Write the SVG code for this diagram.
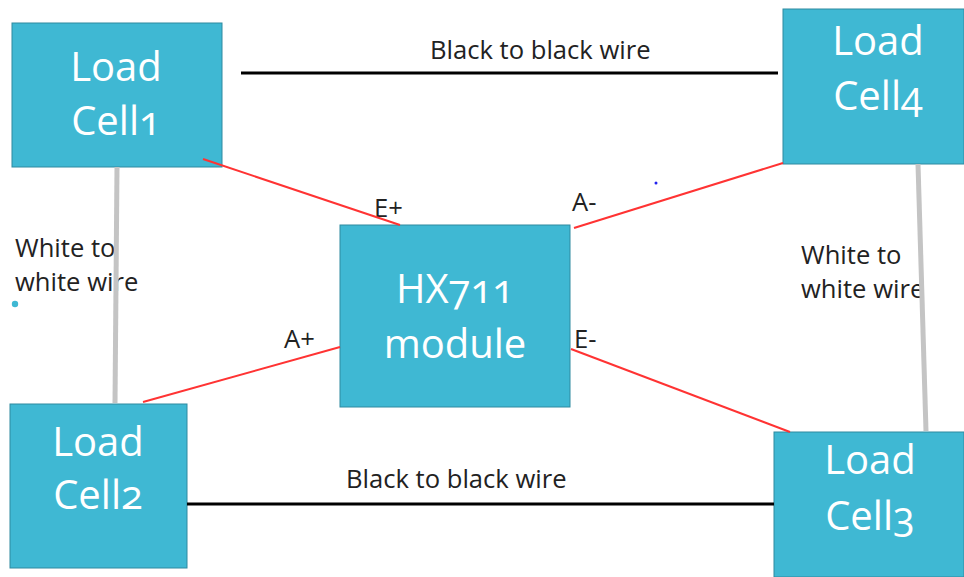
<svg xmlns="http://www.w3.org/2000/svg" width="964" height="577" viewBox="0 0 964 577">
<style>
.n{fill:#3fb8d3;stroke:#2f8aa0;stroke-width:1}
.t{font-family:"Open Sans","Noto Sans",sans-serif;fill:#fff;text-anchor:middle;font-size:40px;font-variant-numeric:oldstyle-nums;font-feature-settings:"onum" 1}
.l{font-family:"Open Sans","Noto Sans",sans-serif;font-size:25.6px;fill:#222}
.r{stroke:#f33;stroke-width:2;fill:none}
.b{stroke:#000;stroke-width:3;fill:none}
.g{stroke:#c4c4c4;stroke-width:5;fill:none}
</style>
<rect width="964" height="577" fill="#fff"/>
<g id="cell1"><rect class="n" x="12" y="23" width="210" height="144"/><text class="t" x="116" y="81">Load</text><text class="t" x="116" y="135">Cell1</text></g>
<g id="cell4"><rect class="n" x="783" y="9" width="181" height="155"/><text class="t" x="878" y="55">Load</text><text class="t" x="878" y="110">Cell4</text></g>
<g id="cell2"><rect class="n" x="10" y="404" width="177" height="164"/><text class="t" x="98" y="456">Load</text><text class="t" x="98" y="509">Cell2</text></g>
<g id="cell3"><rect class="n" x="774" y="432" width="190" height="145"/><text class="t" x="870" y="474">Load</text><text class="t" x="870" y="530">Cell3</text></g>
<g id="hx711"><rect class="n" x="340" y="225" width="230" height="182"/><text class="t" x="455" y="303">HX711</text><text class="t" x="455" y="358">module</text></g>
<g id="labels">
<text class="l" x="430" y="59">Black to black wire</text>
<text class="l" x="346" y="488">Black to black wire</text>
<text class="l" x="15" y="257">White to</text>
<text class="l" x="15" y="291">white wire</text>
<text class="l" x="801" y="264">White to</text>
<text class="l" x="801" y="298">white wire</text>
<text class="l" x="374" y="217">E+</text>
<text class="l" x="572" y="211">A-</text>
<text class="l" x="284" y="348">A+</text>
<text class="l" x="574" y="348">E-</text>
</g>
<g id="connectors">
<line class="b" x1="241" y1="73" x2="778" y2="73"/>
<line class="b" x1="187" y1="504" x2="774" y2="504"/>
<line class="g" x1="117" y1="167" x2="115" y2="403"/>
<line class="g" x1="918" y1="164" x2="926" y2="431"/>
<line class="r" x1="203" y1="159" x2="400" y2="225"/>
<line class="r" x1="574" y1="228" x2="783" y2="163"/>
<line class="r" x1="143" y1="402" x2="340" y2="347"/>
<line class="r" x1="571" y1="349" x2="790" y2="432"/>
</g>
<circle cx="15" cy="304" r="3.2" fill="#3fb8d3"/>
<circle cx="656" cy="183" r="1.5" fill="#2222ee"/>
</svg>
